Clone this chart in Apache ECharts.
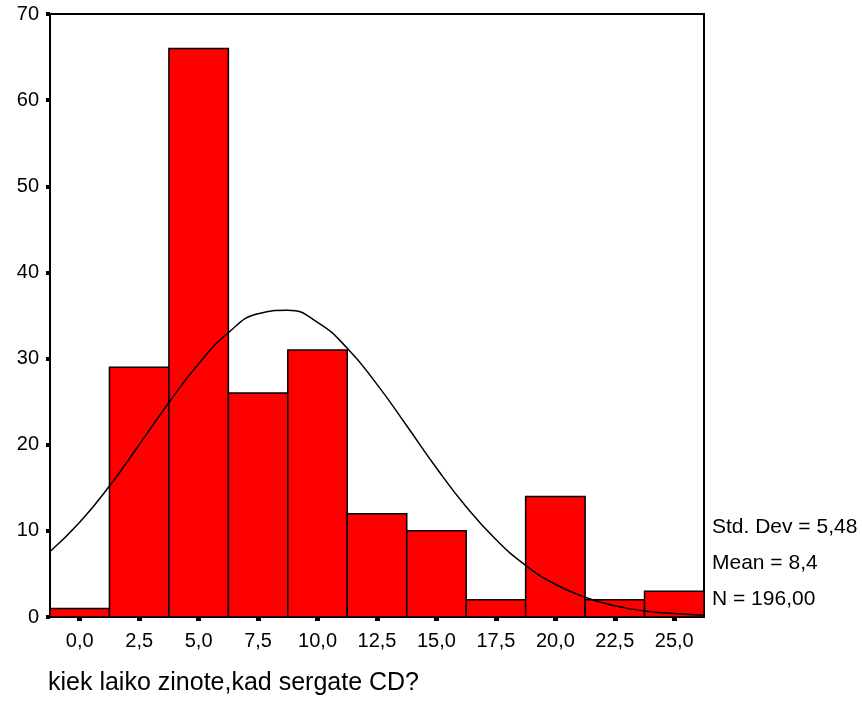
<!DOCTYPE html>
<html>
<head>
<meta charset="utf-8">
<script src="https://cdn.jsdelivr.net/npm/echarts@6/dist/echarts.min.js"></script>
<style>
  html, body { margin: 0; padding: 0; background: #fff; }
  #chart { width: 862px; height: 724px; }
</style>
</head>
<body>
<div id="chart"></div>
<script>
// histogram bins (midpoints) and counts
const binMids = [0, 2.5, 5, 7.5, 10, 12.5, 15, 17.5, 20, 22.5, 25];
const counts = [1, 29, 66, 26, 31, 12, 10, 2, 14, 2, 3];
const binWidth = 2.5;

// fitted normal curve
const curveX = [-1.25, 0, 1.25, 2.5, 3.75, 5, 6.25, 7.5, 8.75, 10, 11.25, 12.5, 13.75, 15, 16.25, 17.5, 18.75, 20, 21.25, 22.5, 23.75, 25, 26.25];
const curveY = [7.6, 11.0, 15.2, 20.0, 24.9, 29.4, 33.0, 35.2, 35.6, 34.2, 31.2, 27.0, 22.2, 17.3, 12.8, 9.0, 6.0, 3.8, 2.3, 1.3, 0.7, 0.4, 0.2];

const yTicks = [0, 10, 20, 30, 40, 50, 60, 70];
const statLines = ['Std. Dev = 5,48', 'Mean = 8,4', 'N = 196,00'];
const xTitle = 'kiek laiko zinote,kad sergate CD?';

const font = 'Liberation Sans, Arial, sans-serif';
const chart = echarts.init(document.getElementById('chart'));

const option = {
  animation: false,
  grid: {
    left: 50, right: 158, top: 14, bottom: 107,
    show: true, borderColor: '#000', borderWidth: 2, backgroundColor: 'transparent'
  },
  xAxis: {
    type: 'value',
    min: binMids[0] - binWidth / 2,
    max: binMids[binMids.length - 1] + binWidth / 2,
    axisLine: { show: true, onZero: false, lineStyle: { color: '#000', width: 2 } },
    axisTick: { show: true, customValues: binMids, length: 4, lineStyle: { color: '#000', width: 5 } },
    axisLabel: {
      customValues: binMids, margin: 14, color: '#000', fontFamily: font, fontSize: 20,
      formatter: v => v.toFixed(1).replace('.', ',')
    },
    splitLine: { show: false }
  },
  yAxis: {
    type: 'value', min: 0, max: 70, interval: 10,
    axisLine: { show: true, onZero: false, lineStyle: { color: '#000', width: 2 } },
    axisTick: { show: true, customValues: yTicks, length: 4, lineStyle: { color: '#000', width: 4 } },
    axisLabel: { customValues: yTicks, margin: 11, color: '#000', fontFamily: font, fontSize: 20 },
    splitLine: { show: false }
  },
  series: [
    {
      type: 'custom',
      data: binMids.map((m, i) => [m, counts[i]]),
      renderItem: (params, api) => {
        const mid = api.value(0);
        const p0 = api.coord([mid - binWidth / 2, api.value(1)]);
        const p1 = api.coord([mid + binWidth / 2, 0]);
        return {
          type: 'rect',
          shape: { x: p0[0], y: p0[1], width: p1[0] - p0[0], height: p1[1] - p0[1] },
          style: { fill: '#ff0000', stroke: '#000', lineWidth: 1.5 }
        };
      },
      z: 2
    },
    {
      type: 'line',
      data: curveX.map((x, i) => [x, curveY[i]]),
      smooth: true,
      showSymbol: false,
      lineStyle: { color: '#000', width: 1.5 },
      z: 3
    }
  ],
  graphic: [
    ...statLines.map((t, i) => ({
      type: 'text', left: 712, top: 517 + i * 36,
      style: { text: t, fill: '#000', font: '21px ' + font }
    })),
    {
      type: 'text', left: 48, top: 671,
      style: { text: xTitle, fill: '#000', font: '25px ' + font }
    }
  ]
};
chart.setOption(option);
</script>
</body>
</html>
